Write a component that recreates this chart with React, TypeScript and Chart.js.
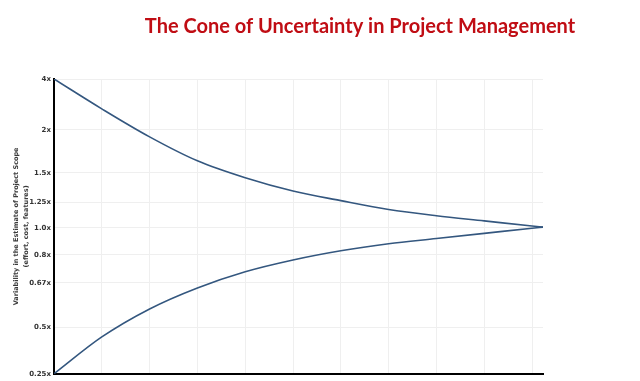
import React, { useEffect, useRef } from "react";
import { Chart, registerables } from "chart.js";

Chart.register(...registerables);

// Horizontal position along the project timeline (grid units)
const xPositions = [0, 1, 2, 3, 4, 5, 6, 7, 8, 9, 10, 10.23];
// Curves in axis units (see yTickValues / yTickLabels for the mapping)
const upperBound = [8.0, 7.19, 6.43, 5.78, 5.32, 4.96, 4.7, 4.46, 4.29, 4.15, 4.01, 3.98];
const lowerBound = [0.0, 1.0, 1.76, 2.33, 2.77, 3.09, 3.34, 3.53, 3.67, 3.81, 3.95, 3.98];
// Y-axis ticks: axis values and their labels
const yTickValues = [0, 1.27, 2.47, 3.23, 3.96, 4.66, 5.45, 6.62, 8];
const yTickLabels = ["0.25x", "0.5x", "0.67x", "0.8x", "1.0x", "1.25x", "1.5x", "2x", "4x"];
const xGridValues = [0, 1, 2, 3, 4, 5, 6, 7, 8, 9, 10];

const chartTitle = "The Cone of Uncertainty in Project Management";
const yTitle = ["Variability in the Estimate of Project Scope", "(effort, cost, features)"];

const titlePlugin = {
  id: "customTitle",
  afterDraw(chart: any) {
    const ctx = chart.ctx;
    ctx.save();
    ctx.font = "bold 20px Lato, 'Open Sans', sans-serif";
    ctx.fillStyle = "#c00d14";
    ctx.textAlign = "center";
    ctx.textBaseline = "middle";
    ctx.fillText(chartTitle, 360, 27);
    ctx.restore();
  },
};

export default function App() {
  const ref = useRef<HTMLCanvasElement | null>(null);

  useEffect(() => {
    if (!ref.current) return;
    const toPoints = (arr: number[]) => arr.map((y, i) => ({ x: xPositions[i], y }));
    const lineColor = "#34577f";
    const chart = new Chart(ref.current, {
      type: "line",
      data: {
        datasets: [
          {
            label: "Upper",
            data: toPoints(upperBound),
            borderColor: lineColor,
            borderWidth: 1.6,
            pointRadius: 0,
            cubicInterpolationMode: "monotone",
            fill: false,
          },
          {
            label: "Lower",
            data: toPoints(lowerBound),
            borderColor: lineColor,
            borderWidth: 1.6,
            pointRadius: 0,
            cubicInterpolationMode: "monotone",
            fill: false,
          },
        ],
      },
      options: {
        responsive: false,
        animation: false,
        layout: { padding: { top: 79, right: 97, bottom: 6, left: 0 } },
        plugins: {
          legend: { display: false },
          tooltip: { enabled: false },
          title: { display: false },
        },
        scales: {
          x: {
            type: "linear",
            min: 0,
            max: 10.23,
            afterBuildTicks: (scale: any) => {
              scale.ticks = xGridValues.map((v) => ({ value: v }));
            },
            ticks: { display: false },
            grid: { color: "#efefef", drawTicks: false },
            border: { color: "#000", width: 2 },
          },
          y: {
            type: "linear",
            min: 0,
            max: 8,
            afterBuildTicks: (scale: any) => {
              scale.ticks = yTickValues.map((v) => ({ value: v }));
            },
            afterFit: (scale: any) => {
              scale.width = 54;
            },
            ticks: {
              callback: (value: any) => {
                const i = yTickValues.indexOf(Number(value));
                return i >= 0 ? yTickLabels[i] : "";
              },
              font: { family: "'DejaVu Sans', sans-serif", size: 7, weight: "bold" },
              color: "#333",
              padding: 3,
              autoSkip: false,
            },
            grid: { color: "#efefef", drawTicks: false },
            border: { color: "#000", width: 2 },
            title: {
              display: true,
              text: yTitle,
              font: { family: "'DejaVu Sans', sans-serif", size: 6.5, weight: "bold", lineHeight: 1.6 },
              color: "#3a3a3a",
              padding: { top: 11, bottom: 2 },
            },
          },
        },
      },
      plugins: [titlePlugin],
    } as any);
    return () => chart.destroy();
  }, []);

  return (
    <div style={{ position: "fixed", left: 0, top: 0, width: 640, height: 381, background: "#fff" }}>
      <canvas ref={ref} width={640} height={381} style={{ display: "block" }} />
    </div>
  );
}
